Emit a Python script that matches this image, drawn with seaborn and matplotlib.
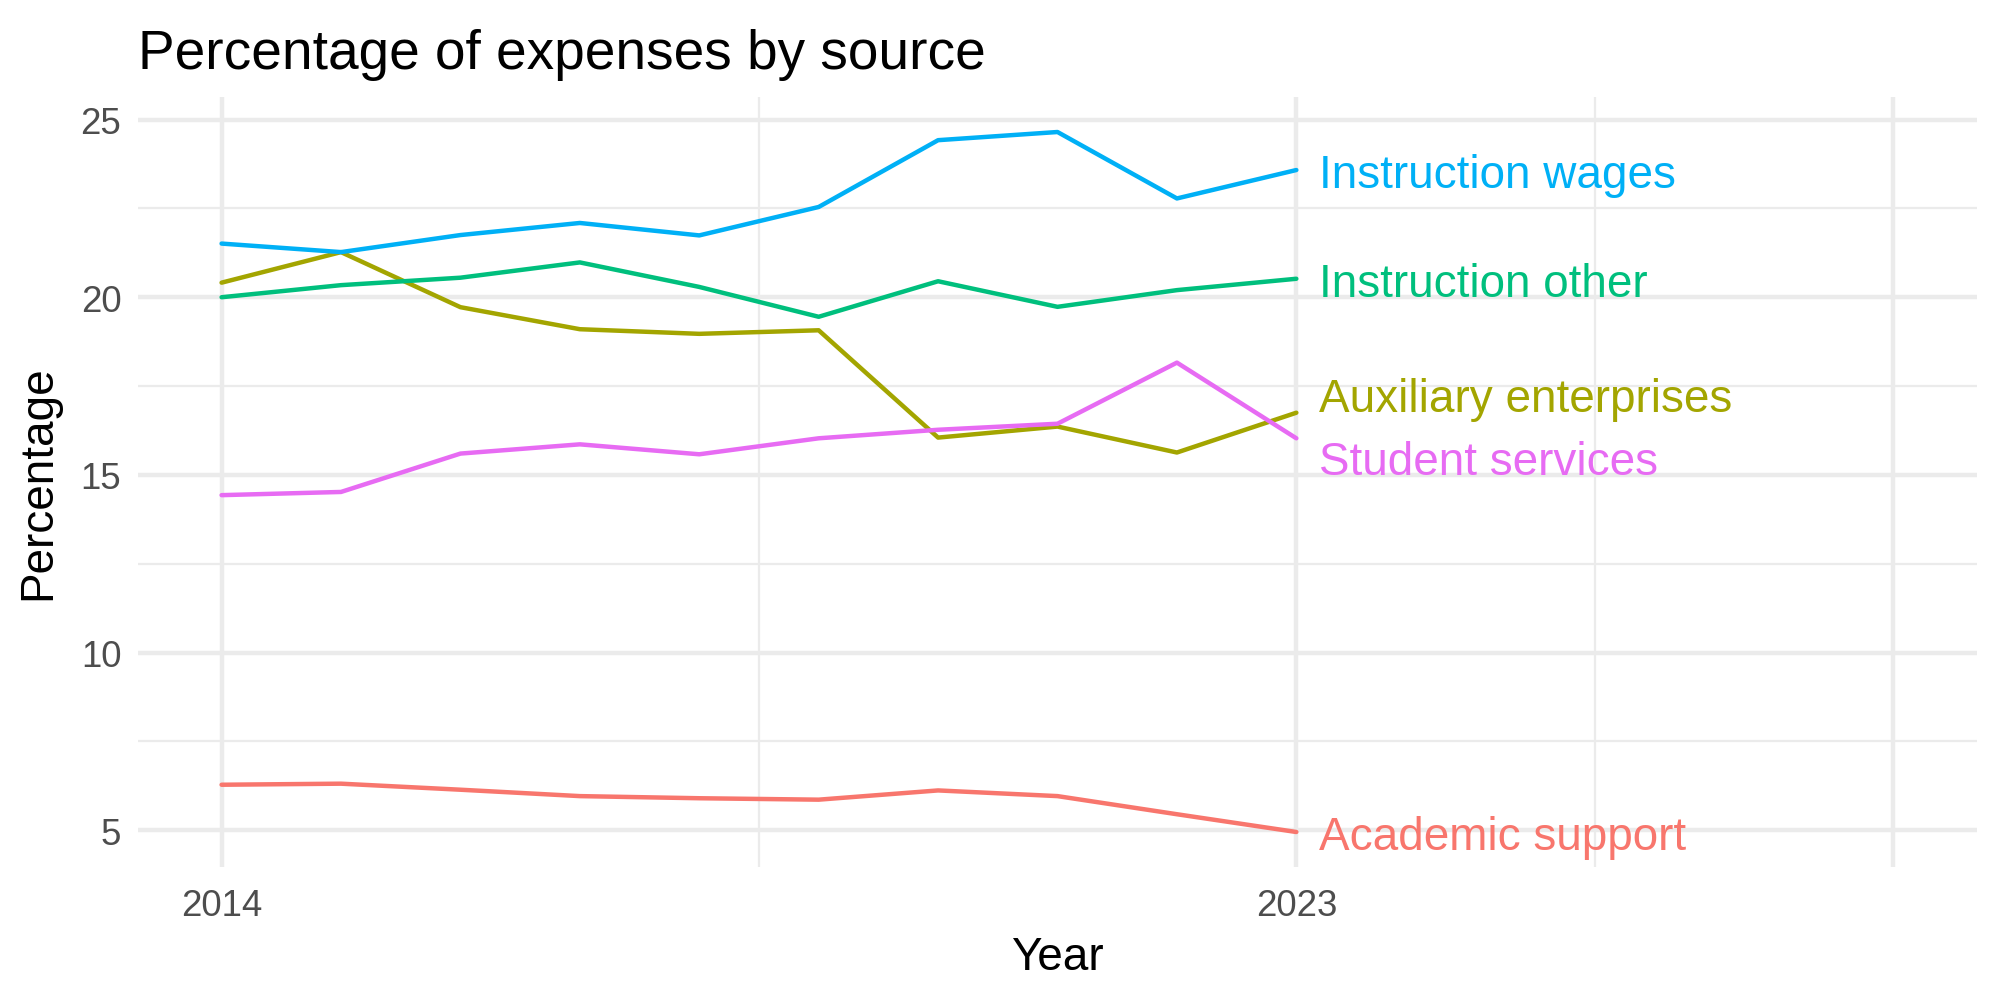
import numpy as np
import pandas as pd
import matplotlib
matplotlib.use("Agg")
import matplotlib.pyplot as plt
import seaborn as sns

# values
years = list(range(2014, 2024))
instruction_wages = [21.51, 21.27, 21.75, 22.09, 21.74, 22.54, 24.42, 24.65, 22.78, 23.58]
instruction_other = [20.00, 20.34, 20.55, 20.98, 20.29, 19.45, 20.45, 19.73, 20.20, 20.52]
auxiliary_enterprises = [20.41, 21.27, 19.72, 19.10, 18.97, 19.07, 16.05, 16.36, 15.63, 16.75]
student_services = [14.43, 14.52, 15.60, 15.86, 15.58, 16.03, 16.27, 16.44, 18.16, 16.03]
academic_support = [6.28, 6.31, 6.14, 5.96, 5.90, 5.86, 6.12, 5.96, 5.45, 4.95]

sources = ["Academic support", "Auxiliary enterprises", "Instruction other",
           "Instruction wages", "Student services"]
series = [academic_support, auxiliary_enterprises, instruction_other,
          instruction_wages, student_services]
colors = ["#F8766D", "#A3A500", "#00BF7D", "#00B0F6", "#E76BF3"]

x_breaks = [2014, 2023, 2028]
x_labels = ["2014", "2023", ""]
y_breaks = [5, 10, 15, 20, 25]

df = pd.concat(
    [pd.DataFrame({"Year": years, "Percentage": vals, "Source": name})
     for name, vals in zip(sources, series)],
    ignore_index=True,
)

sns.set_theme(style="white")
plt.rcParams["font.family"] = ["Liberation Sans", "DejaVu Sans"]

fig = plt.figure(figsize=(6.6667, 3.3333), dpi=300)
ax = fig.add_axes([0.069, 0.132, 0.9195, 0.770])

grid_col = "#EBEBEB"
ax.set_axisbelow(True)

sns.lineplot(data=df, x="Year", y="Percentage", hue="Source",
             palette=dict(zip(sources, colors)), linewidth=1.07,
             legend=False, ax=ax, zorder=3)

# limits with ggplot-style 5% expansion
xlo, xhi = 2014, 2028
xpad = (xhi - xlo) * 0.05
ax.set_xlim(xlo - xpad, xhi + xpad)
ymin, ymax = df["Percentage"].min(), df["Percentage"].max()
ypad = (ymax - ymin) * 0.05
ax.set_ylim(ymin - ypad, ymax + ypad)

ax.set_xticks(x_breaks)
ax.set_xticklabels(x_labels)
ax.set_xticks([(a + b) / 2 for a, b in zip(x_breaks[:-1], x_breaks[1:])], minor=True)
ax.set_yticks(y_breaks)
ax.set_yticks([(a + b) / 2 for a, b in zip(y_breaks[:-1], y_breaks[1:])], minor=True)

ax.grid(True, which="major", color=grid_col, linewidth=1.07)
ax.grid(True, which="minor", color=grid_col, linewidth=0.53)
for s in ax.spines.values():
    s.set_visible(False)
ax.tick_params(which="both", length=0)
ax.tick_params(axis="both", labelsize=8.8, labelcolor="#4D4D4D")
ax.tick_params(axis="x", pad=5)
ax.tick_params(axis="y", pad=4)

ax.set_xlabel("Year", fontsize=11, color="black", labelpad=3)
ax.set_ylabel("Percentage", fontsize=11, color="black", labelpad=5)
ax.set_title("Percentage of expenses by source", fontsize=13.2, loc="left",
             color="black", pad=7)
ax.title.set_position((-0.002, 1.0))

# end labels, nudged apart where they would overlap
ends = [(vals[-1], name, col) for name, vals, col in zip(sources, series, colors)]
ends.sort()
label_y = [e[0] for e in ends]
min_gap = 1.75
for _ in range(50):
    for i in range(len(label_y) - 1):
        gap = label_y[i + 1] - label_y[i]
        if gap < min_gap:
            shift = (min_gap - gap) / 2
            label_y[i] -= shift
            label_y[i + 1] += shift
for (yv, name, col), ly in zip(ends, label_y):
    ax.annotate(name, xy=(years[-1], ly), xytext=(5.5, -1.2), textcoords="offset points",
                va="center", ha="left", fontsize=11, color=col, zorder=4)

fig.savefig("out.png", dpi=300)
